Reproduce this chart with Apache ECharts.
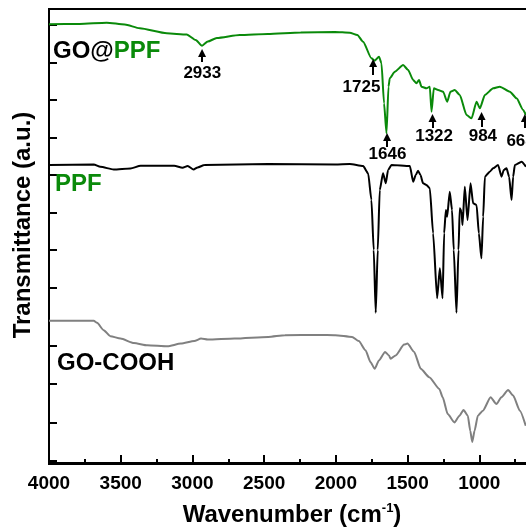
<!DOCTYPE html>
<html>
<head>
<meta charset="utf-8">
<script src="https://cdn.jsdelivr.net/npm/echarts@6/dist/echarts.min.js"></script>
<style>
html,body{margin:0;padding:0;background:#fff;}
#chart{width:526px;height:529px;}
</style>
</head>
<body>
<div id="chart"></div>
<script>
// ---- data (wavenumber in cm-1, transmittance in arbitrary offset units) ----
var greenWn = [4000, 3786, 3598, 3472, 3367, 3179, 3040, 2977, 2933, 2893, 2830, 2670, 2475, 2245, 2007, 1903, 1850, 1810, 1752, 1729, 1699, 1682, 1664, 1647, 1633, 1624, 1589, 1531, 1496, 1461, 1438, 1420, 1403, 1368, 1345, 1333, 1317, 1287, 1252, 1224, 1201, 1171, 1136, 1089, 1054, 1019, 996, 961, 903, 857, 787, 740, 694, 675];
var greenT = [438.7, 439, 440.3, 438.5, 434.7, 429.7, 428.5, 423, 417.3, 421.5, 425, 428, 429, 430.5, 431, 430.3, 428, 421.3, 404.7, 402.3, 406.3, 399.7, 359.7, 329.7, 376.3, 384.7, 391.3, 398, 393, 383, 379.7, 383, 376.3, 374.7, 376.3, 351.3, 374.7, 373, 371.3, 361.3, 371.3, 373, 368, 348, 344.7, 361.3, 354.7, 368, 374.7, 376.3, 371.3, 364.7, 353, 348];

var blackWn = [4000, 3688, 3642, 3549, 3432, 3361, 3127, 3069, 3033, 2992, 2964, 2916, 2472, 2004, 1903, 1810, 1775, 1752, 1736, 1722, 1708, 1694, 1671, 1652, 1636, 1612, 1484, 1461, 1443, 1427, 1410, 1392, 1368, 1345, 1322, 1294, 1275, 1256, 1245, 1233, 1224, 1206, 1190, 1178, 1159, 1145, 1136, 1124, 1117, 1101, 1082, 1061, 1043, 1019, 1003, 985, 973, 961, 927, 904, 869, 845, 829, 810, 792, 775, 764, 752, 705, 675];
var blackT = [297.9, 298.6, 296.2, 293.5, 294.5, 297.2, 297.2, 295.2, 296.9, 293.5, 295.6, 297.9, 298.9, 298.6, 299, 297, 289.7, 263, 213, 150.3, 213, 273, 289.7, 279.7, 293, 298, 297, 281.3, 288, 292.3, 288, 279.7, 278, 274.7, 229.7, 164.7, 194.7, 164.7, 229.7, 253, 246.3, 271.3, 253, 213, 150.3, 213, 254.7, 251.3, 238, 276.3, 243, 279.7, 259.7, 258, 229.7, 204.7, 246.3, 286.3, 291.3, 294.7, 298, 286.3, 293, 294.7, 286.3, 263, 286.3, 298, 301.3, 296.3];

var greyWn = [4000, 3688, 3665, 3619, 3572, 3501, 3408, 3314, 3174, 3080, 2987, 2940, 2893, 2706, 2472, 2355, 2121, 2004, 1887, 1840, 1793, 1759, 1729, 1700, 1657, 1630, 1618, 1583, 1524, 1501, 1454, 1408, 1349, 1279, 1255, 1220, 1173, 1138, 1110, 1080, 1063, 1049, 1033, 1010, 975, 921, 881, 846, 799, 764, 717, 676];
var greyT = [142.2, 142.2, 140.2, 132.8, 126.8, 124.4, 120, 117.7, 116.7, 119.4, 122, 124.4, 123.4, 124.4, 126.1, 127.8, 128.1, 127.8, 126.1, 122, 112.7, 101, 94.2, 102.6, 111, 107.6, 104.3, 107.6, 118.4, 119.4, 111, 94.2, 85.8, 74.1, 65.7, 48.9, 40.5, 47.3, 53, 47.3, 32.2, 21.1, 32.2, 47.3, 52.3, 65.7, 59, 65.7, 73.1, 67.4, 52.3, 37.2];

// peak annotations
var peakLabels = ['2933', '1725', '1646', '1322', '984', '668'];
var arrowWn = [2933, 1740, 1643, 1326, 984, 682];
var arrowTip = [410, 400, 326, 345, 347, 345];
var arrowTail = [401, 388, 316, 335, 336, 335];
var labelWn = [2931, 1821, 1640, 1315, 975, 712];
var labelT = [390, 375.5, 309, 327, 327, 322];

// axis ticks
var xTickLabels = [4000, 3500, 3000, 2500, 2000, 1500, 1000];
var yTickValues = [438, 400.5, 363, 325.5, 288, 250.5, 213, 175.3, 117, 79, 40.5, 2];

function pairs(xs, ys) { return xs.map(function (x, i) { return [x, ys[i]]; }); }

var FONT = "'Liberation Sans', Arial, sans-serif";
var chart = echarts.init(document.getElementById('chart'), null, {renderer: 'canvas'});

var arrowLines = arrowWn.map(function (w, i) {
  return [{coord: [w, arrowTail[i]], symbol: 'none'}, {coord: [w, arrowTip[i]], symbol: 'triangle'}];
});

chart.setOption({
  animation: false,
  backgroundColor: '#fff',
  grid: {left: 49, width: 502, top: 9, height: 455, outerBoundsMode: 'none', containLabel: false,
    show: true, borderColor: '#000', borderWidth: 2, backgroundColor: 'transparent'},
  xAxis: {
    type: 'value', inverse: true, min: 500, max: 4000, interval: 500,
    axisLine: {show: true, lineStyle: {color: '#000', width: 2}},
    axisTick: {show: true, inside: true, length: 8, lineStyle: {color: '#000', width: 2}},
    minorTick: {show: true, splitNumber: 2, length: 4, lineStyle: {color: '#000', width: 2}},
    splitLine: {show: false},
    axisLabel: {
      margin: 10, color: '#000', fontSize: 19, fontWeight: 'bold', fontFamily: FONT,
      formatter: function (v) { return xTickLabels.indexOf(v) >= 0 ? String(v) : ''; }
    }
  },
  yAxis: {
    type: 'value', min: -1, max: 454,
    axisLine: {show: true, lineStyle: {color: '#000', width: 2}},
    axisTick: {show: true, inside: true, length: 8, lineStyle: {color: '#000', width: 2}, customValues: yTickValues},
    axisLabel: {show: false},
    splitLine: {show: false}
  },
  series: [
    {type: 'line', name: 'GO@PPF', data: pairs(greenWn, greenT), showSymbol: false, smooth: 0.2, smoothMonotone: 'x',
      lineStyle: {color: '#0a8a0a', width: 2}, z: 3},
    {type: 'line', name: 'PPF', data: pairs(blackWn, blackT), showSymbol: false, smooth: 0.2, smoothMonotone: 'x',
      lineStyle: {color: '#000', width: 2}, z: 3},
    {type: 'line', name: 'GO-COOH', data: pairs(greyWn, greyT), showSymbol: false, smooth: 0.2, smoothMonotone: 'x',
      lineStyle: {color: '#808080', width: 2}, z: 3},
    {type: 'scatter', name: 'peaks', data: pairs(labelWn, labelT), symbolSize: 0, z: 5,
      itemStyle: {opacity: 1, color: '#000'},
      label: {show: true, position: 'inside', color: '#000', opacity: 1, textBorderWidth: 0, fontSize: 17, fontWeight: 'bold', fontFamily: FONT,
        formatter: function (p) { return peakLabels[p.dataIndex]; }},
      markLine: {silent: true, symbolSize: 8, label: {show: false},
        lineStyle: {color: '#000', width: 2, type: 'solid', opacity: 1},
        emphasis: {disabled: true},
        data: arrowLines}
    }
  ],
  graphic: [
    {type: 'text', left: 53, top: 39, z: 10,
      style: {text: '{k|GO@}{g|PPF}', rich: {
        k: {fill: '#000', fontSize: 24, fontWeight: 'bold', fontFamily: FONT},
        g: {fill: '#0a8a0a', fontSize: 24, fontWeight: 'bold', fontFamily: FONT}}}},
    {type: 'text', left: 55, top: 172, z: 10,
      style: {text: 'PPF', fill: '#0a8a0a', fontSize: 24, fontWeight: 'bold', fontFamily: FONT}},
    {type: 'text', left: 57, top: 351, z: 10,
      style: {text: 'GO-COOH', fill: '#000', fontSize: 24, fontWeight: 'bold', fontFamily: FONT}},
    {type: 'text', x: 292, y: 515, z: 10,
      style: {text: '{a|Wavenumber (cm}{s|-1}{a|)}', align: 'center', verticalAlign: 'middle', rich: {
        a: {fill: '#000', fontSize: 24, fontWeight: 'bold', fontFamily: FONT, lineHeight: 26},
        s: {fill: '#000', fontSize: 13, fontWeight: 'bold', fontFamily: FONT, verticalAlign: 'top', lineHeight: 26}}}},
    {type: 'text', x: 23, y: 225, rotation: Math.PI / 2, z: 10,
      style: {text: 'Transmittance (a.u.)', align: 'center', verticalAlign: 'middle', fill: '#000', fontSize: 24, fontWeight: 'bold', fontFamily: FONT}}
  ]
});
</script>
</body>
</html>
